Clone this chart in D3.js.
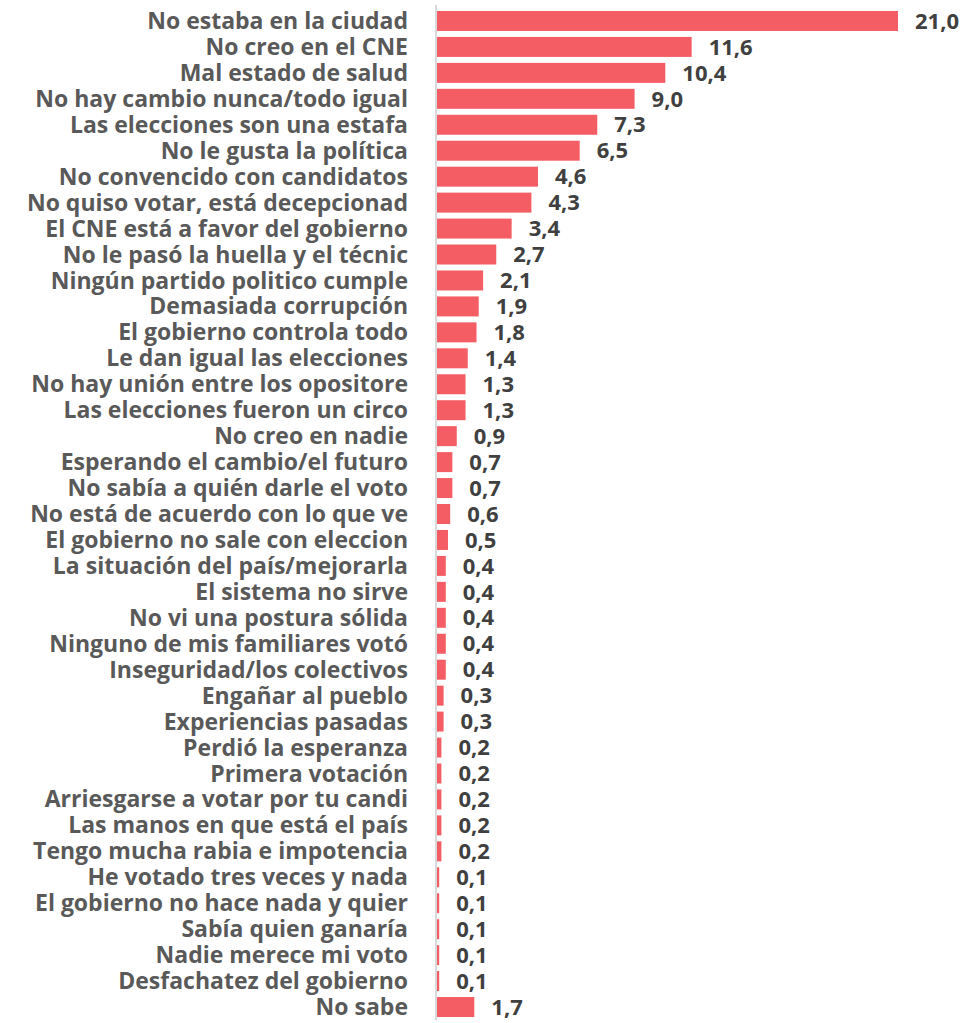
<!DOCTYPE html>
<html lang="es">
<head>
<meta charset="utf-8">
<title>Razones para no votar</title>
<script src="https://cdn.jsdelivr.net/npm/d3@7"></script>
<style>
  body { margin: 0; background: #fff; }
  .cat { font-family: "Open Sans", sans-serif; font-weight: bold; font-size: 23px; fill: #595959; }
  .val { font-family: "Open Sans", sans-serif; font-weight: bold; font-size: 22px; fill: #404040; }
</style>
</head>
<body>
<div id="vis"></div>
<script>
// categorías y porcentajes
var categories = [
  "No estaba en la ciudad", "No creo en el CNE", "Mal estado de salud",
  "No hay cambio nunca/todo igual", "Las elecciones son una estafa",
  "No le gusta la política", "No convencido con candidatos",
  "No quiso votar, está decepcionad", "El CNE está a favor del gobierno",
  "No le pasó la huella y el técnic", "Ningún partido politico cumple",
  "Demasiada corrupción", "El gobierno controla todo",
  "Le dan igual las elecciones", "No hay unión entre los opositore",
  "Las elecciones fueron un circo", "No creo en nadie",
  "Esperando el cambio/el futuro", "No sabía a quién darle el voto",
  "No está de acuerdo con lo que ve", "El gobierno no sale con eleccion",
  "La situación del país/mejorarla", "El sistema no sirve",
  "No vi una postura sólida", "Ninguno de mis familiares votó",
  "Inseguridad/los colectivos", "Engañar al pueblo", "Experiencias pasadas",
  "Perdió la esperanza", "Primera votación", "Arriesgarse a votar por tu candi",
  "Las manos en que está el país", "Tengo mucha rabia e impotencia",
  "He votado tres veces y nada", "El gobierno no hace nada y quier",
  "Sabía quien ganaría", "Nadie merece mi voto", "Desfachatez del gobierno",
  "No sabe"
];
var values = [
  21.0, 11.6, 10.4, 9.0, 7.3, 6.5, 4.6, 4.3, 3.4, 2.7, 2.1, 1.9, 1.8, 1.4,
  1.3, 1.3, 0.9, 0.7, 0.7, 0.6, 0.5, 0.4, 0.4, 0.4, 0.4, 0.4, 0.3, 0.3,
  0.2, 0.2, 0.2, 0.2, 0.2, 0.1, 0.1, 0.1, 0.1, 0.1, 1.7
];

var data = categories.map(function(c, i) { return { cat: c, v: values[i] }; });

var width = 974, height = 1023;
var svg = d3.select("#vis").append("svg").attr("width", width).attr("height", height);

var x = d3.scaleLinear().domain([0, 21]).range([437, 898]);
var y = d3.scaleBand().domain(categories).range([8, 1020])
  .paddingInner(0.23).paddingOuter(0.115);

var fmt = function(v) { return d3.format(".1f")(v).replace(".", ","); };

svg.selectAll("rect.bar").data(data).enter().append("rect")
  .attr("class", "bar")
  .attr("x", x(0))
  .attr("y", function(d) { return y(d.cat); })
  .attr("width", function(d) { return x(d.v) - x(0); })
  .attr("height", y.bandwidth())
  .attr("fill", "#f55d64");

// eje vertical
svg.append("line")
  .attr("x1", x(0) - 1).attr("x2", x(0) - 1)
  .attr("y1", 5).attr("y2", 1020)
  .attr("stroke", "#d9d9d9").attr("stroke-width", 2);

svg.selectAll("text.cat").data(data).enter().append("text")
  .attr("class", "cat")
  .attr("x", 408)
  .attr("y", function(d) { return y(d.cat) + y.bandwidth() / 2; })
  .attr("dy", "0.35em")
  .attr("text-anchor", "end")
  .text(function(d) { return d.cat; });

svg.selectAll("text.val").data(data).enter().append("text")
  .attr("class", "val")
  .attr("x", function(d) { return x(d.v) + 17; })
  .attr("y", function(d) { return y(d.cat) + y.bandwidth() / 2; })
  .attr("dy", "0.35em")
  .text(function(d) { return fmt(d.v); });
</script>
</body>
</html>
